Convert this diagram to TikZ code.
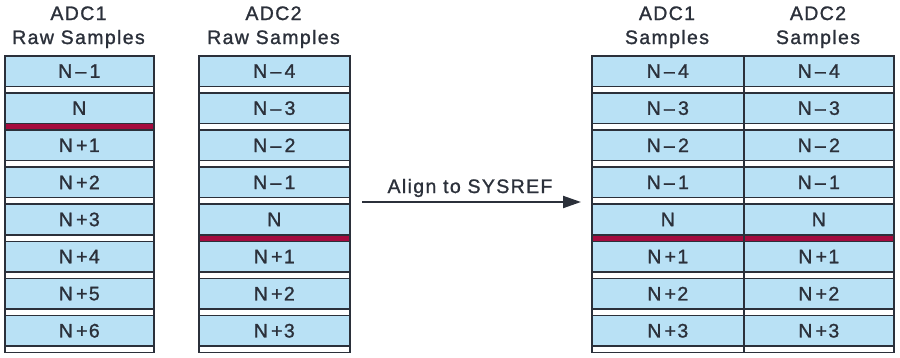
\documentclass[tikz,border=0pt]{standalone}
\usepackage{fontspec}
\setmainfont{Liberation Sans}[LetterSpace=7,FakeBold=1.2]
\usetikzlibrary{arrows.meta}
\definecolor{cellblue}{HTML}{B9E1F5}
\definecolor{syncred}{HTML}{A50B3E}
\definecolor{edge}{HTML}{2B303A}
\newcommand{\samplecolumn}[5]{%
  \foreach \lab [count=\i from 0] in {#5} {
    \pgfmathsetmacro{\rowtop}{55+37.1*\i}
    \node[cellbox, minimum width=#3pt] (#1\i) at (#2,\rowtop) {\lab};
    \ifnum\i=#4\relax
      \node[stripbox, fill=syncred, minimum width=#3pt] (#1s\i) at (#2,\rowtop+30.5) {};
    \else
      \node[stripbox, fill=white, minimum width=#3pt] (#1s\i) at (#2,\rowtop+30.5) {};
    \fi
  }%
}
\begin{document}
\begin{tikzpicture}[x=1pt,y=-1pt,
  font=\fontsize{19.5}{22}\selectfont,
  cellbox/.style={draw=edge, line width=1.6pt, fill=cellblue, inner sep=0pt,
    text=edge, anchor=north west, minimum height=30.5pt},
  stripbox/.style={draw=edge, line width=1.6pt, inner sep=0pt,
    anchor=north west, minimum height=6.6pt},
  header/.style={text=edge, inner sep=0pt, anchor=base},
  flow/.style={draw=edge, line width=2pt, -{Triangle[length=18pt,width=12pt]}}]
\useasboundingbox (0,0) rectangle (900,357);

\samplecolumn{a}{4}{149}{1}{N\,–\,1, N, N\,+1, N\,+2, N\,+3, N\,+4, N\,+5, N\,+6}
\samplecolumn{b}{198}{151}{4}{N\,–\,4, N\,–\,3, N\,–\,2, N\,–\,1, N, N\,+1, N\,+2, N\,+3}
\samplecolumn{c}{591}{152}{4}{N\,–\,4, N\,–\,3, N\,–\,2, N\,–\,1, N, N\,+1, N\,+2, N\,+3}
\samplecolumn{d}{743}{150}{4}{N\,–\,4, N\,–\,3, N\,–\,2, N\,–\,1, N, N\,+1, N\,+2, N\,+3}

\node[header] (h1a) at (78.5,20) {ADC1};
\node[header] (h1b) at (78.5,44) {Raw Samples};
\node[header] (h2a) at (273.5,20) {ADC2};
\node[header] (h2b) at (273.5,44) {Raw Samples};
\node[header] (h3a) at (667,20) {ADC1};
\node[header] (h3b) at (667,44) {Samples};
\node[header] (h4a) at (818,20) {ADC2};
\node[header] (h4b) at (818,44) {Samples};

\coordinate (arrowstart) at (362,202);
\coordinate (arrowend) at (581,202);
\draw[flow] (arrowstart) -- (arrowend);
\node[header] (alignlabel) at (470,193) {Align to SYSREF};
\end{tikzpicture}
\end{document}
